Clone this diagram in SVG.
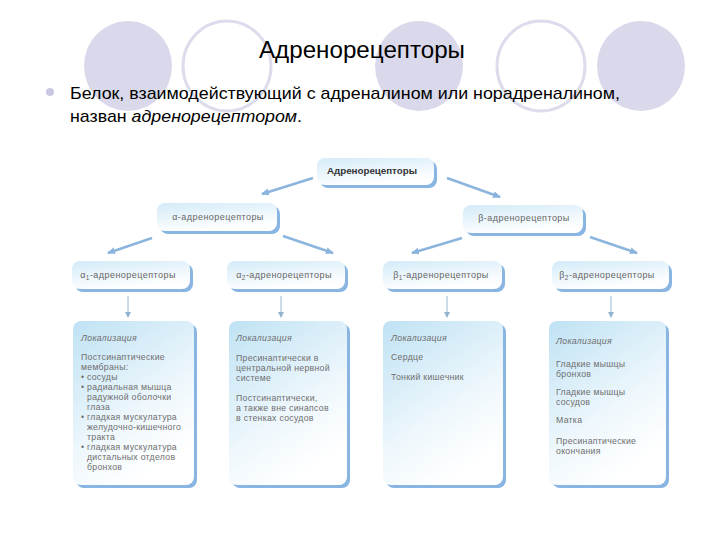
<svg xmlns="http://www.w3.org/2000/svg" width="720" height="540" viewBox="0 0 720 540">
<defs>
  <linearGradient id="nodeGrad" x1="0" y1="0" x2="0.4" y2="1">
    <stop offset="0" stop-color="#d4ebf8"/>
    <stop offset="1" stop-color="#ffffff"/>
  </linearGradient>
  <linearGradient id="boxGrad" x1="0" y1="0" x2="0.5" y2="1">
    <stop offset="0" stop-color="#bfe2f4"/>
    <stop offset="0.65" stop-color="#eef7fc"/>
    <stop offset="1" stop-color="#ffffff"/>
  </linearGradient>
  <marker id="arr" markerUnits="userSpaceOnUse" markerWidth="10" markerHeight="10" refX="7" refY="3.5" orient="auto">
    <path d="M0,0 L8,3.5 L0,7 z" fill="#8ab4de"/>
  </marker>
  <marker id="arrSmall" markerUnits="userSpaceOnUse" markerWidth="8" markerHeight="8" refX="5" refY="3" orient="auto">
    <path d="M0,0 L6,3 L0,6 z" fill="#94b4d4"/>
  </marker>
</defs>
<style>
  .fc{fill:#d9d9eb}
  .oc{fill:#ffffff;stroke:#dcdcec;stroke-width:3}
  .title{font-family:"Liberation Sans",Arial,sans-serif;fill:#000}
  .shadow{fill:#88b5e2}
  .node{fill:url(#nodeGrad)}
  .box{fill:url(#boxGrad)}
  .lbl{font-family:"Liberation Sans",Arial,sans-serif;font-size:9px;fill:#666;text-anchor:middle;letter-spacing:0.45px}
  .txt{font-family:"Liberation Sans",Arial,sans-serif;font-size:8.7px;fill:#6e6e6e;letter-spacing:0.3px}
  .it{font-style:italic}
  .conn{stroke:#8cb5de;stroke-width:2.5;fill:none;marker-end:url(#arr)}
  .down{stroke:#9ab8d6;stroke-width:1;fill:none;marker-end:url(#arrSmall)}
</style>

<g id="background">
  <ellipse class="fc" cx="128" cy="66" rx="44" ry="45"/>
  <ellipse class="oc" cx="227" cy="66" rx="44" ry="45"/>
  <ellipse class="fc" cx="419" cy="66" rx="44" ry="45"/>
  <ellipse class="oc" cx="541" cy="66" rx="44" ry="45"/>
  <ellipse class="fc" cx="641" cy="66" rx="44" ry="45"/>
</g>

<g id="heading">
  <text class="title" x="259" y="58" font-size="23" textLength="206" lengthAdjust="spacingAndGlyphs">Адренорецепторы</text>
  <circle cx="50" cy="92" r="4" fill="#c8c8e2"/>
  <text class="title" x="70" y="99" font-size="17" textLength="550" lengthAdjust="spacingAndGlyphs">Белок, взаимодействующий с адреналином или норадреналином,</text>
  <text class="title" x="70" y="122" font-size="17" textLength="232" lengthAdjust="spacingAndGlyphs">назван <tspan font-style="italic">адренорецептором</tspan>.</text>
</g>

<g id="connectors">
  <line class="conn" x1="313" y1="178" x2="262" y2="194"/>
  <line class="conn" x1="447" y1="178" x2="500" y2="197"/>
  <line class="conn" x1="152" y1="238" x2="108" y2="253"/>
  <line class="conn" x1="283" y1="236" x2="333" y2="253"/>
  <line class="conn" x1="462" y1="238" x2="412" y2="253"/>
  <line class="conn" x1="590" y1="237" x2="637" y2="253"/>
  <line class="down" x1="128" y1="296" x2="128" y2="317"/>
  <line class="down" x1="281" y1="296" x2="281" y2="317"/>
  <line class="down" x1="447" y1="296" x2="447" y2="317"/>
  <line class="down" x1="611" y1="296" x2="611" y2="317"/>
</g>

<g id="n-root">
  <rect class="shadow" x="320" y="161" width="117" height="27" rx="8"/>
  <rect class="node" x="317" y="158" width="117" height="27" rx="8"/>
  <text class="lbl" x="372" y="174" font-weight="bold" style="fill:#333;letter-spacing:0" textLength="90" lengthAdjust="spacingAndGlyphs">Адренорецепторы</text>
</g>

<g id="n-alpha">
  <rect class="shadow" x="160" y="206" width="120" height="28" rx="8"/>
  <rect class="node" x="157" y="203" width="120" height="28" rx="8"/>
  <text class="lbl" x="218" y="220">α-адренорецепторы</text>
</g>

<g id="n-beta">
  <rect class="shadow" x="466" y="208" width="120" height="28" rx="8"/>
  <rect class="node" x="463" y="205" width="120" height="28" rx="8"/>
  <text class="lbl" x="524" y="221">β-адренорецепторы</text>
</g>

<g id="n-alpha1">
  <rect class="shadow" x="75" y="264" width="118" height="28" rx="8"/>
  <rect class="node" x="72" y="261" width="118" height="28" rx="8"/>
  <text class="lbl" x="128" y="278">α<tspan font-size="6.5" dy="2">1</tspan><tspan dy="-2">-адренорецепторы</tspan></text>
</g>

<g id="n-alpha2">
  <rect class="shadow" x="230" y="264" width="118" height="28" rx="8"/>
  <rect class="node" x="227" y="261" width="118" height="28" rx="8"/>
  <text class="lbl" x="284" y="278">α<tspan font-size="6.5" dy="2">2</tspan><tspan dy="-2">-адренорецепторы</tspan></text>
</g>

<g id="n-beta1">
  <rect class="shadow" x="386" y="264" width="119" height="28" rx="8"/>
  <rect class="node" x="383" y="261" width="119" height="28" rx="8"/>
  <text class="lbl" x="441" y="278">β<tspan font-size="6.5" dy="2">1</tspan><tspan dy="-2">-адренорецепторы</tspan></text>
</g>

<g id="n-beta2">
  <rect class="shadow" x="555" y="264" width="117" height="28" rx="8"/>
  <rect class="node" x="552" y="261" width="117" height="28" rx="8"/>
  <text class="lbl" x="607" y="278">β<tspan font-size="6.5" dy="2">2</tspan><tspan dy="-2">-адренорецепторы</tspan></text>
</g>

<g id="loc-alpha1">
  <rect class="shadow" x="76" y="324" width="121" height="164" rx="8"/>
  <rect class="box" x="73" y="321" width="121" height="164" rx="8"/>
  <text class="txt it" x="81" y="341">Локализация</text>
  <text class="txt" x="81" y="360">Постсинаптические</text>
  <text class="txt" x="81" y="370">мембраны:</text>
  <text class="txt" x="81" y="380">•</text><text class="txt" x="87" y="380">сосуды</text>
  <text class="txt" x="81" y="390">•</text><text class="txt" x="87" y="390">радиальная мышца</text>
  <text class="txt" x="87" y="400">радужной оболочки</text>
  <text class="txt" x="87" y="410">глаза</text>
  <text class="txt" x="81" y="420">•</text><text class="txt" x="87" y="420">гладкая мускулатура</text>
  <text class="txt" x="87" y="430">желудочно-кишечного</text>
  <text class="txt" x="87" y="440">тракта</text>
  <text class="txt" x="81" y="450">•</text><text class="txt" x="87" y="450">гладкая мускулатура</text>
  <text class="txt" x="87" y="460">дистальных отделов</text>
  <text class="txt" x="87" y="470">бронхов</text>
</g>

<g id="loc-alpha2">
  <rect class="shadow" x="232" y="324" width="118" height="164" rx="8"/>
  <rect class="box" x="229" y="321" width="118" height="164" rx="8"/>
  <text class="txt it" x="236" y="341">Локализация</text>
  <text class="txt" x="236" y="361">Пресинаптически в</text>
  <text class="txt" x="236" y="371">центральной нервной</text>
  <text class="txt" x="236" y="381">системе</text>
  <text class="txt" x="236" y="401">Постсинаптически,</text>
  <text class="txt" x="236" y="411">а также вне синапсов</text>
  <text class="txt" x="236" y="421">в стенках сосудов</text>
</g>

<g id="loc-beta1">
  <rect class="shadow" x="386" y="324" width="120" height="164" rx="8"/>
  <rect class="box" x="383" y="321" width="120" height="164" rx="8"/>
  <text class="txt it" x="391" y="341">Локализация</text>
  <text class="txt" x="391" y="360">Сердце</text>
  <text class="txt" x="391" y="380">Тонкий кишечник</text>
</g>

<g id="loc-beta2">
  <rect class="shadow" x="552" y="324" width="117" height="164" rx="8"/>
  <rect class="box" x="549" y="321" width="117" height="164" rx="8"/>
  <text class="txt it" x="556" y="344">Локализация</text>
  <text class="txt" x="556" y="367">Гладкие мышцы</text>
  <text class="txt" x="556" y="377">бронхов</text>
  <text class="txt" x="556" y="395">Гладкие мышцы</text>
  <text class="txt" x="556" y="405">сосудов</text>
  <text class="txt" x="556" y="423">Матка</text>
  <text class="txt" x="556" y="444">Пресинаптические</text>
  <text class="txt" x="556" y="454">окончания</text>
</g>
</svg>
